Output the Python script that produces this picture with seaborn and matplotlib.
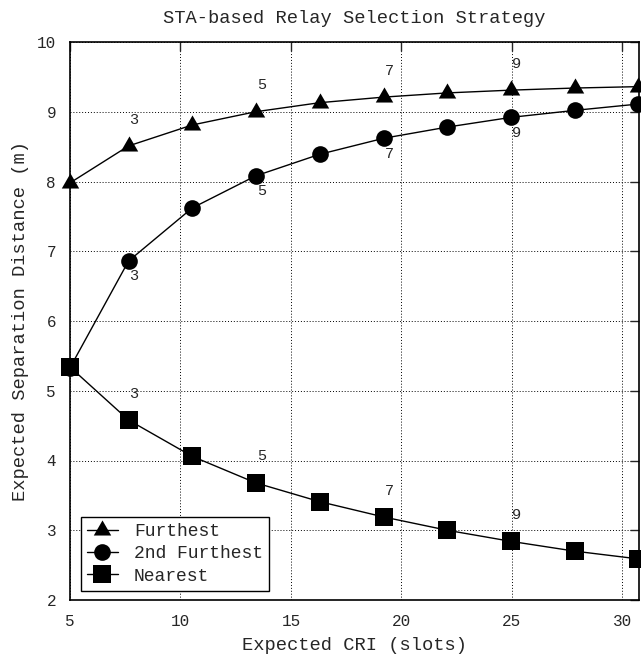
import numpy as np
import pandas as pd
import matplotlib
matplotlib.use("Agg")
import matplotlib.pyplot as plt
import seaborn as sns

# Expected CRI (slots) for 2..11 stations
cri = [5.0, 7.65, 10.53, 13.4, 16.3, 19.2, 22.07, 24.97, 27.85, 30.7]
furthest = [7.98, 8.51, 8.81, 9.0, 9.13, 9.21, 9.27, 9.31, 9.34, 9.36]
second_furthest = [5.33, 6.86, 7.62, 8.08, 8.39, 8.62, 8.78, 8.92, 9.02, 9.11]
nearest = [5.34, 4.58, 4.06, 3.68, 3.41, 3.19, 3.0, 2.84, 2.70, 2.59]

# number-of-stations labels, placed next to some of the points
label_idx = [1, 3, 5, 7]
label_txt = ["3", "5", "7", "9"]

sns.set_style("white")
plt.rcParams["font.family"] = ["Liberation Mono", "DejaVu Sans Mono"]

# triangle with its centroid at the data point (like gnuplot)
tri = [(0, 1.333), (-1.155, -0.667), (1.155, -0.667), (0, 1.333)]

fig = plt.figure(figsize=(6.41, 6.59), dpi=100)
ax = fig.add_axes([70 / 641, 1 - 600 / 659, 569 / 641, 558 / 659])

series = [
    ("Furthest", furthest, tri, 14.5),
    ("2nd Furthest", second_furthest, "o", 12),
    ("Nearest", nearest, "s", 12.5),
]
for name, vals, mk, ms in series:
    df = pd.DataFrame({"cri": cri, "dist": vals})
    sns.lineplot(data=df, x="cri", y="dist", ax=ax, color="black", lw=1,
                 marker=mk, markersize=ms, markeredgewidth=0, label=name,
                 clip_on=False, zorder=3)

# station count annotations
for i, t in zip(label_idx, label_txt):
    ax.annotate(t, (cri[i], furthest[i]), xytext=(4, 19), textcoords="offset points",
                ha="center", va="center", fontsize=11)
    ax.annotate(t, (cri[i], second_furthest[i]), xytext=(4, -11), textcoords="offset points",
                ha="center", va="center", fontsize=11)
    ax.annotate(t, (cri[i], nearest[i]), xytext=(4, 19), textcoords="offset points",
                ha="center", va="center", fontsize=11)

ax.set_xlim(5, 30.75)
ax.set_ylim(2, 10)
ax.set_xticks([5, 10, 15, 20, 25, 30])
ax.set_yticks(range(2, 11))
ax.grid(True, color="black", linestyle=(0, (1, 2)), linewidth=0.7)
ax.tick_params(direction="in", length=6.5, width=1, top=True, right=True,
               labelsize=11.5, pad=10)
for sp in ax.spines.values():
    sp.set_color("black")
    sp.set_linewidth(1.2)

ax.set_title("STA-based Relay Selection Strategy", fontsize=13.5, pad=14)
ax.set_xlabel("Expected CRI (slots)", fontsize=13.5, labelpad=6)
ax.set_ylabel("Expected Separation Distance (m)", fontsize=13.5, labelpad=6)

leg = ax.legend(loc="lower left", bbox_to_anchor=(0.019, 0.016), fontsize=13,
                frameon=True, fancybox=False, shadow=False, framealpha=1,
                edgecolor="black", borderaxespad=0, handlelength=1.7,
                handletextpad=0.9, labelspacing=0.3, borderpad=0.35)
leg.get_frame().set_linewidth(1)

fig.savefig("out.png", dpi=100)
